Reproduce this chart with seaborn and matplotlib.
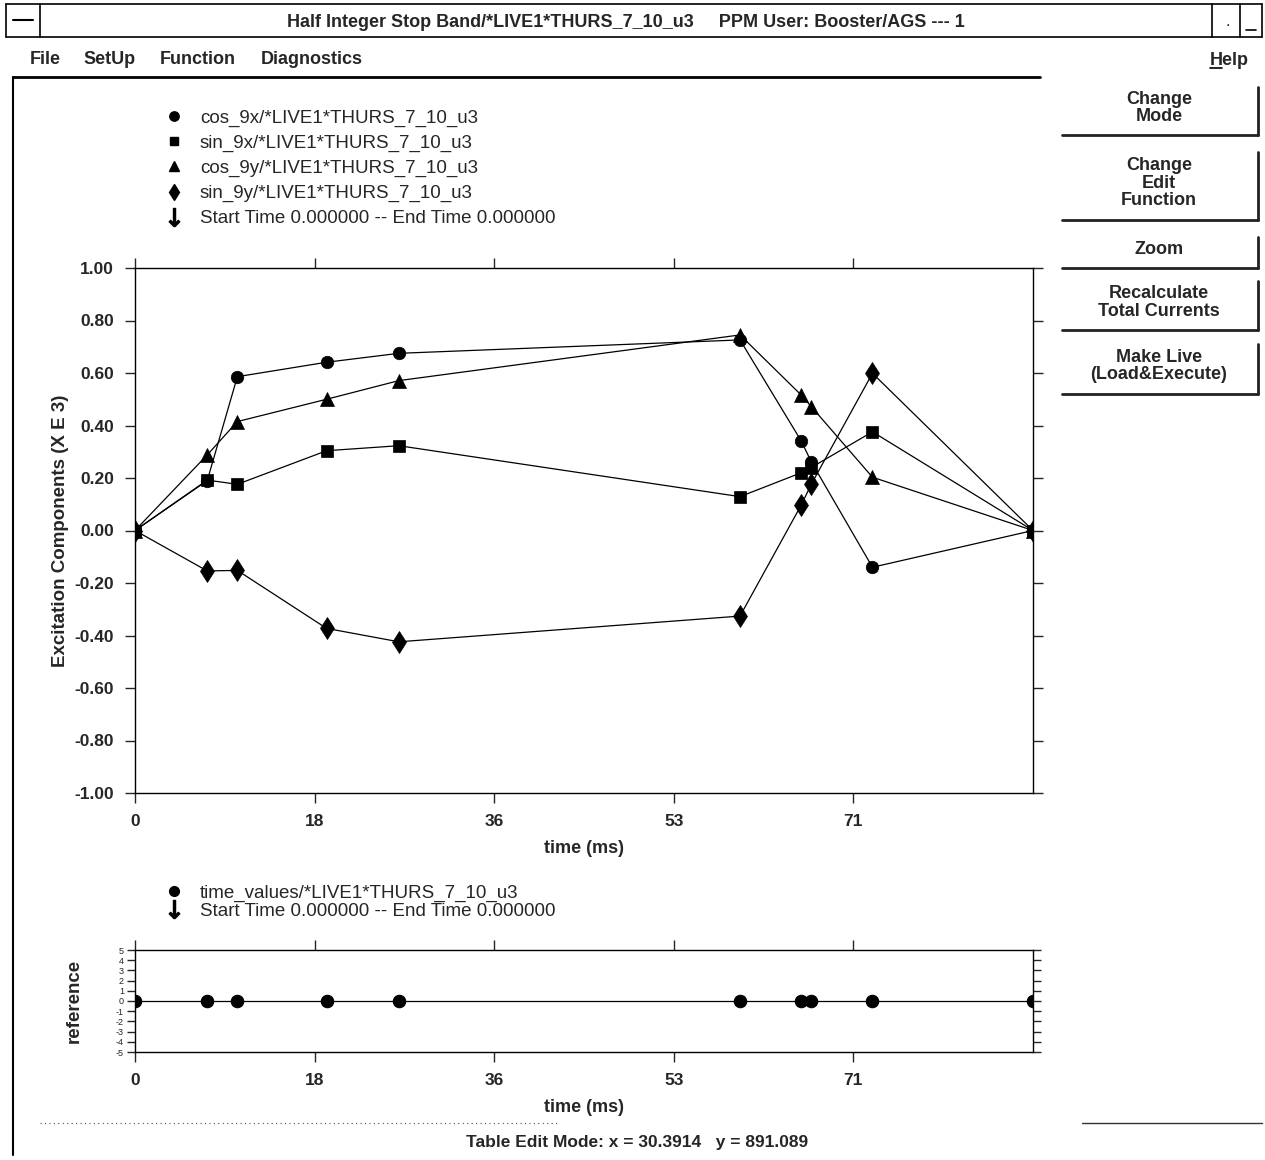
import numpy as np
import pandas as pd
import matplotlib
matplotlib.use("Agg")
import matplotlib.pyplot as plt
from matplotlib.lines import Line2D
import seaborn as sns

# ---- data -------------------------------------------------------------
time_ms = [0.0, 7.2, 10.2, 19.1, 26.3, 60.3, 66.4, 67.4, 73.5, 89.5]
cos_9x = [0.00, 0.19, 0.586, 0.641, 0.675, 0.726, 0.341, 0.262, -0.14, 0.00]
sin_9x = [0.00, 0.192, 0.176, 0.304, 0.323, 0.129, 0.22, 0.24, 0.376, 0.00]
cos_9y = [0.00, 0.288, 0.415, 0.50, 0.571, 0.745, 0.516, 0.472, 0.203, 0.00]
sin_9y = [0.00, -0.154, -0.152, -0.373, -0.424, -0.326, 0.097, 0.176, 0.599, 0.00]
reference = [0, 0, 0, 0, 0, 0, 0, 0, 0, 0]

series_names = ["cos_9x/*LIVE1*THURS_7_10_u3", "sin_9x/*LIVE1*THURS_7_10_u3",
                "cos_9y/*LIVE1*THURS_7_10_u3", "sin_9y/*LIVE1*THURS_7_10_u3"]
series_values = [cos_9x, sin_9x, cos_9y, sin_9y]
x_tick_labels = ["0", "18", "36", "53", "71"]
y_tick_values = [-1.0, -0.8, -0.6, -0.4, -0.2, 0.0, 0.2, 0.4, 0.6, 0.8, 1.0]
ref_tick_values = list(range(-5, 6))

title_text = "Half Integer Stop Band/*LIVE1*THURS_7_10_u3     PPM User: Booster/AGS --- 1"
menu_items = ["File", "SetUp", "Function", "Diagnostics"]
buttons = ["Change\nMode", "Change\nEdit\nFunction", "Zoom",
           "Recalculate\nTotal Currents", "Make Live\n(Load&Execute)"]
time_range_text = "Start Time 0.000000 -- End Time 0.000000"
status_text = "Table Edit Mode: x = 30.3914   y = 891.089"

# ---- style -------------------------------------------------------------
sns.set_style("ticks")
plt.rcParams["font.family"] = ["Liberation Sans", "DejaVu Sans"]
plt.rcParams["axes.linewidth"] = 1.0

W, H = 1265, 1160
fig = plt.figure(figsize=(W / 100, H / 100), dpi=100)
fig.patch.set_facecolor("white")


def fx(px):
    return px / W


def fy(py):
    return 1 - py / H


def fig_line(x0, y0, x1, y1, **kw):
    kw.setdefault("color", "black")
    kw.setdefault("lw", 1.0)
    fig.add_artist(Line2D([fx(x0), fx(x1)], [fy(y0), fy(y1)],
                          transform=fig.transFigure, **kw))


# ---- window chrome -------------------------------------------------------
fig_line(6, 4, 1262, 4, lw=1.2)
fig_line(6, 37, 1262, 37, lw=1.2)
for xs in (6, 40, 1212, 1240, 1262):
    fig_line(xs, 4, xs, 37, lw=1.2)
fig_line(13, 20, 33, 20, lw=1.5)
fig.text(fx(626), fy(27), title_text, ha="center", va="baseline",
         fontsize=13, fontweight="bold", fontstretch="condensed")
fig.text(fx(1228), fy(26), ".", ha="center", va="baseline", fontsize=12)
fig_line(1246, 30, 1256, 30, lw=1.2)

menu_x = [30, 83, 160, 261]
for mx, item in zip(menu_x, menu_items):
    fig.text(fx(mx), fy(64), item, ha="left", va="baseline",
             fontsize=13, fontweight="bold")
fig.text(fx(1210), fy(65), "Help", ha="left", va="baseline",
         fontsize=13, fontweight="bold")
fig_line(1210, 68, 1222, 68, lw=1.2)

fig_line(13, 77, 1040, 77, lw=2.0)
fig_line(13, 77, 13, 1155, lw=1.5)
fig_line(40, 1123, 560, 1123, lw=0.8, ls=(0, (1, 3)), color="#444444")
fig_line(1082, 1123, 1262, 1123, lw=1.0, color="#333333")
fig.text(fx(637), fy(1147), status_text, ha="center", va="baseline",
         fontsize=12.5, fontweight="bold")

# ---- buttons ---------------------------------------------------------------
button_boxes = [(87, 135), (152, 220), (237, 268), (281, 330), (344, 394)]
for (top, bottom), label in zip(button_boxes, buttons):
    fig_line(1062, bottom, 1258, bottom, lw=2.0, color="#222222")
    fig_line(1258, top, 1258, bottom, lw=2.0, color="#222222")
    fig.text(fx(1159), fy((top + bottom) / 2 - 3), label, ha="center",
             va="center", fontsize=13, fontweight="bold", linespacing=1.05)

# ---- main plot ---------------------------------------------------------------
long_df = pd.DataFrame({
    "time": np.tile(time_ms, len(series_names)),
    "value": np.concatenate(series_values),
    "series": np.repeat(series_names, len(time_ms)),
})
marker_map = dict(zip(series_names, ["o", "s", "^", "d"]))
size_map = {series_names[0]: 9, series_names[1]: 8.5,
            series_names[2]: 10, series_names[3]: 11.5}

ax = fig.add_axes([fx(135), fy(793), fx(1033) - fx(135), (793 - 268) / H])
for name in series_names:
    sub = long_df[long_df["series"] == name]
    sns.lineplot(data=sub, x="time", y="value", ax=ax, color="black",
                 marker=marker_map[name], markersize=size_map[name],
                 markeredgecolor="black", markeredgewidth=0.5,
                 linewidth=0.9, legend=False, zorder=3)

x_max = time_ms[-1]
x_ticks = [i * x_max / 5 for i in range(5)]
ax.set_xlim(0, x_max)
ax.set_ylim(-1.0, 1.0)
ax.set_xticks(x_ticks)
ax.set_xticklabels(x_tick_labels)
ax.set_yticks(y_tick_values)
ax.set_yticklabels([f"{v:.2f}" for v in y_tick_values])
ax.tick_params(direction="out", length=7, width=1.0, top=True, right=True,
               labelsize=12.5, pad=8)
for lab in ax.get_xticklabels() + ax.get_yticklabels():
    lab.set_fontweight("bold")
ax.set_xlabel("time (ms)", fontsize=13, fontweight="bold", labelpad=8)
ax.set_ylabel("Excitation Components (X E 3)", fontsize=13.5,
              fontweight="bold", labelpad=4)
for sp in ax.spines.values():
    sp.set_visible(True)
    sp.set_color("black")

# legend above the main plot
handles = [Line2D([], [], color="black", ls="none", marker=marker_map[n],
                  markersize=size_map[n] * 0.75) for n in series_names]
handles.append(Line2D([], [], color="black", ls="none",
                      marker=r"$\downarrow$", markersize=13))
ax.legend(handles, series_names + [time_range_text], loc="upper left",
          bbox_to_anchor=(fx(153), fy(100)),
          bbox_transform=fig.transFigure, frameon=False,
          fontsize=13.5, labelspacing=0.42, handletextpad=0.8,
          handlelength=1.2, borderpad=0)

# ---- reference plot -------------------------------------------------------
ref_df = pd.DataFrame({"time": time_ms, "reference": reference})
ax2 = fig.add_axes([fx(135), fy(1052), fx(1033) - fx(135), (1052 - 950) / H])
sns.lineplot(data=ref_df, x="time", y="reference", ax=ax2, color="black",
             marker="o", markersize=9, markeredgecolor="black",
             linewidth=0.9, legend=False)
ax2.set_xlim(0, x_max)
ax2.set_ylim(-5, 5)
ax2.set_xticks(x_ticks)
ax2.set_xticklabels(x_tick_labels)
ax2.set_yticks(ref_tick_values)
ax2.set_yticklabels([str(v) for v in ref_tick_values])
ax2.tick_params(axis="x", direction="out", length=7, width=1.0, top=True,
                labelsize=12.5, pad=8)
ax2.tick_params(axis="y", direction="out", length=6, width=1.0, right=True,
                labelsize=6.5, pad=2)
for lab in ax2.get_xticklabels():
    lab.set_fontweight("bold")
ax2.set_xlabel("time (ms)", fontsize=13, fontweight="bold", labelpad=8)
ax2.set_ylabel("reference", fontsize=13.5, fontweight="bold", labelpad=24)
for sp in ax2.spines.values():
    sp.set_visible(True)
    sp.set_color("black")

ax2.legend([Line2D([], [], color="black", ls="none", marker="o", markersize=7),
            Line2D([], [], color="black", ls="none", marker=r"$\downarrow$",
                   markersize=13)],
           ["time_values/*LIVE1*THURS_7_10_u3", time_range_text],
           loc="upper left", bbox_to_anchor=(fx(153), fy(875)),
           bbox_transform=fig.transFigure, frameon=False, fontsize=13.5,
           labelspacing=0.05, handletextpad=0.8, handlelength=1.2, borderpad=0)

fig.savefig("out.png", dpi=100, facecolor="white")
